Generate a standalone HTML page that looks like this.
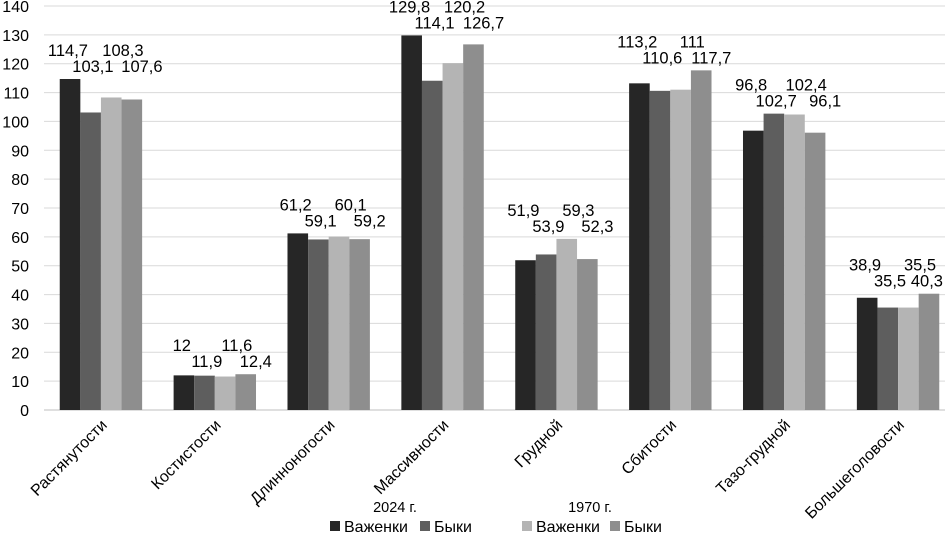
<!DOCTYPE html>
<html><head><meta charset="utf-8"><style>
body{margin:0;background:#fff}
svg{font-family:"Liberation Sans",sans-serif;display:block}
</style></head><body>
<svg id="chart" width="945" height="534" viewBox="0 0 945 534" xmlns="http://www.w3.org/2000/svg"></svg>
<script>
const categories=["Растянутости","Костистости","Длинноногости","Массивности","Грудной","Сбитости","Тазо-грудной","Большеголовости"];
const vazhenki2024=[114.7,12,61.2,129.8,51.9,113.2,96.8,38.9];
const byki2024=[103.1,11.9,59.1,114.1,53.9,110.6,102.7,35.5];
const vazhenki1970=[108.3,11.6,60.1,120.2,59.3,111,102.4,35.5];
const byki1970=[107.6,12.4,59.2,126.7,52.3,117.7,96.1,40.3];
const yTicks=[0,10,20,30,40,50,60,70,80,90,100,110,120,130,140];
const seriesNames=["Важенки","Быки","Важенки","Быки"];
const series=[vazhenki2024,byki2024,vazhenki1970,byki1970];
const colors=["#262626","#5e5e5e","#b4b4b4","#8e8e8e"];
const svg=document.getElementById('chart');
const NS="http://www.w3.org/2000/svg";
const L=44,R=955,T=6,B=410,maxV=140;
const y=v=>B-(v/maxV)*(B-T);
const step=(R-L)/categories.length;
const bw=20.6;
const labelOff=[-33,-8,22,41];
function mk(t,a,p){const e=document.createElementNS(NS,t);for(const k in a)e.setAttribute(k,a[k]);(p||svg).appendChild(e);return e;}
const fmt=v=>String(v).replace('.',',');
yTicks.forEach(t=>{
 const g=mk('line',{x1:L,x2:945,y1:y(t),y2:y(t),stroke:t===0?'#bfbfbf':'#d9d9d9','stroke-width':1});
 
 
 const tx=mk('text',{x:29,y:y(t)+6,'text-anchor':'end','font-size':16,fill:'#000'});
 tx.textContent=t;
 
 
});
categories.forEach((c,i)=>{
 const cx=L+step*(i+0.5);
 const x0=cx-2*bw;
 let maxTop=Math.min(...series.map(s=>y(s[i])));
 const row1=maxTop-29;
 series.forEach((s,j)=>{
  const r=mk('rect',{x:x0+j*bw,y:y(s[i]),width:bw,height:B-y(s[i]),fill:colors[j]});
  
  
  const lt=mk('text',{x:cx+labelOff[j],y:row1+6+(j%2)*16,'text-anchor':'middle','font-size':16.5,fill:'#000'});
  lt.textContent=fmt(s[i]);
  
  
  const bb=lt.getBBox();
  if(bb.x+bb.width>943){lt.setAttribute('text-anchor','end');lt.setAttribute('x',943);}
 });
 const ct=mk('text',{x:cx+7,y:426,'text-anchor':'end','font-size':16,fill:'#000',transform:`rotate(-45 ${cx+7} 426)`});
 ct.textContent=c;
 
 
});
[["2024 г.",395],["1970 г.",590]].forEach(([t,x])=>{
 const e=mk('text',{x:x,y:512,'text-anchor':'middle','font-size':14.5,fill:'#000'});
 e.textContent=t;
 
 
});
const lx=[330,420,522,610];
seriesNames.forEach((n,j)=>{
 const r=mk('rect',{x:lx[j],y:521,width:10,height:10,fill:colors[j]});
 
 
 const t=mk('text',{x:lx[j]+14,y:532,'font-size':16,fill:'#000'});
 t.textContent=n;
 
 
});
</script>
</body></html>
